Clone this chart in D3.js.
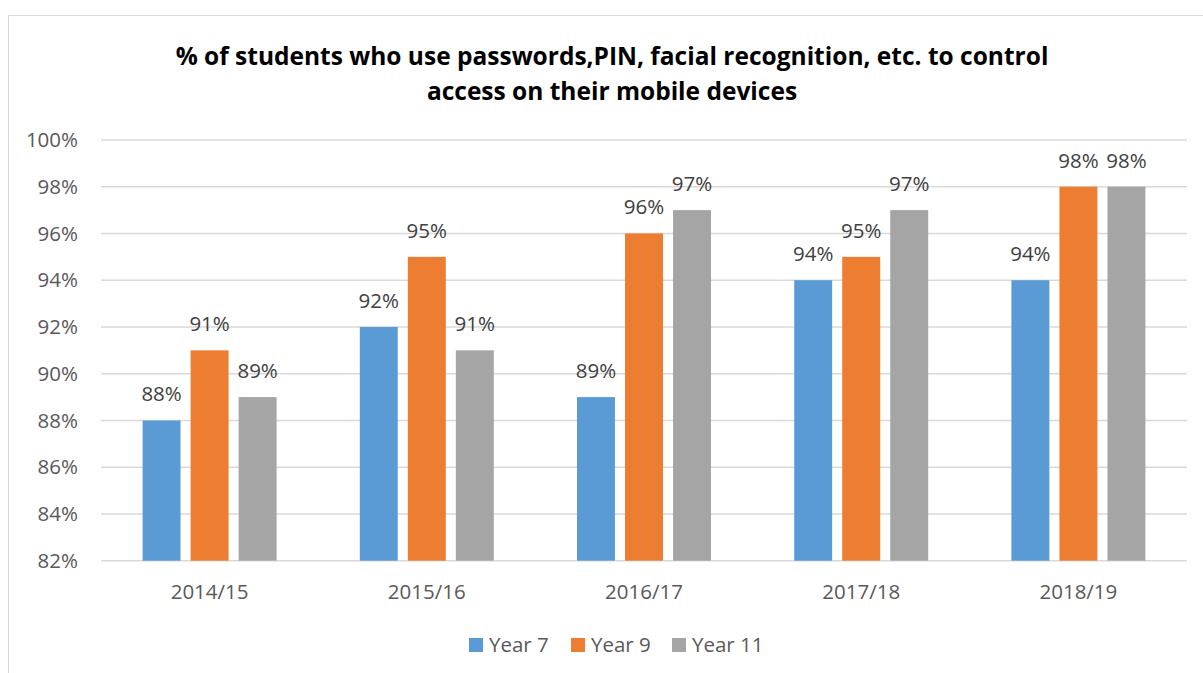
<!DOCTYPE html>
<html>
<head>
<meta charset="utf-8">
<script src="https://cdn.jsdelivr.net/npm/d3@7"></script>
<style>
  body { margin: 0; background: #fff; }
  text { font-family: "Open Sans", sans-serif; }
</style>
</head>
<body>
<svg id="chart" width="1203" height="673"></svg>
<script>
// data
const years = ["2014/15", "2015/16", "2016/17", "2017/18", "2018/19"];
const seriesNames = ["Year 7", "Year 9", "Year 11"];
const year7 = [88, 92, 89, 94, 94];
const year9 = [91, 95, 96, 95, 98];
const year11 = [89, 91, 97, 97, 98];
const yTicks = [82, 84, 86, 88, 90, 92, 94, 96, 98, 100];
const titleLines = ["% of students who use passwords,PIN, facial recognition, etc. to control",
                    "access on their mobile devices"];

const colors = ["#5B9BD5", "#ED7D31", "#A5A5A5"];
const seriesVals = [year7, year9, year11];

const svg = d3.select("#chart");

// outer frame
svg.append("rect")
  .attr("x", 8.5).attr("y", 15.5)
  .attr("width", 1300).attr("height", 800)
  .attr("fill", "none").attr("stroke", "#D9D9D9").attr("stroke-width", 1);

// title
svg.append("g").selectAll("text")
  .data(titleLines)
  .join("text")
  .attr("x", 612)
  .attr("y", (d, i) => 65 + i * 35)
  .attr("text-anchor", "middle")
  .attr("font-size", 24.5)
  .attr("font-weight", "bold")
  .attr("fill", "#000")
  .text(d => d);

const plotL = 101, plotR = 1187, plotT = 140, plotB = 560.7;
const fs = 20.5;

const y = d3.scaleLinear().domain([82, 100]).range([plotB, plotT]);
const x = d3.scaleBand().domain(years).range([plotL, plotR]);
const groupW = 134;
const xs = d3.scaleBand().domain(seriesNames)
  .range([(x.bandwidth() - groupW) / 2, (x.bandwidth() + groupW) / 2])
  .paddingInner(0.21);

// gridlines
svg.append("g").selectAll("line")
  .data(yTicks)
  .join("line")
  .attr("x1", plotL).attr("x2", plotR)
  .attr("y1", d => y(d)).attr("y2", d => y(d))
  .attr("stroke", "#D9D9D9").attr("stroke-width", 1.5);

// y tick labels
svg.append("g").selectAll("text")
  .data(yTicks)
  .join("text")
  .attr("x", 78)
  .attr("y", d => y(d))
  .attr("dy", "0.35em")
  .attr("text-anchor", "end")
  .attr("font-size", fs)
  .attr("fill", "#595959")
  .text(d => d + "%");

// bars
const groups = svg.append("g").selectAll("g")
  .data(years)
  .join("g")
  .attr("transform", d => `translate(${x(d)},0)`);

groups.selectAll("rect")
  .data((d, i) => seriesNames.map((s, j) => ({ s, j, v: seriesVals[j][i] })))
  .join("rect")
  .attr("x", d => xs(d.s))
  .attr("width", xs.bandwidth())
  .attr("y", d => y(d.v))
  .attr("height", d => plotB - y(d.v))
  .attr("fill", d => colors[d.j]);

groups.selectAll("text.lbl")
  .data((d, i) => seriesNames.map((s, j) => ({ s, j, v: seriesVals[j][i] })))
  .join("text")
  .attr("class", "lbl")
  .attr("x", d => xs(d.s) + xs.bandwidth() / 2)
  .attr("y", d => y(d.v) - 19)
  .attr("text-anchor", "middle")
  .attr("font-size", fs)
  .attr("fill", "#404040")
  .text(d => d.v + "%");

// x axis labels
svg.append("g").selectAll("text")
  .data(years)
  .join("text")
  .attr("x", d => x(d) + x.bandwidth() / 2)
  .attr("y", 599)
  .attr("text-anchor", "middle")
  .attr("font-size", fs)
  .attr("fill", "#595959")
  .text(d => d);

// legend
const legendX = [469, 571, 672];
const leg = svg.append("g").selectAll("g")
  .data(seriesNames)
  .join("g")
  .attr("transform", (d, i) => `translate(${legendX[i]},638)`);
leg.append("rect")
  .attr("width", 14).attr("height", 14)
  .attr("fill", (d, i) => colors[i]);
leg.append("text")
  .attr("x", 20).attr("y", 7)
  .attr("dy", "0.35em")
  .attr("font-size", fs)
  .attr("fill", "#595959")
  .text(d => d);
</script>
</body>
</html>
